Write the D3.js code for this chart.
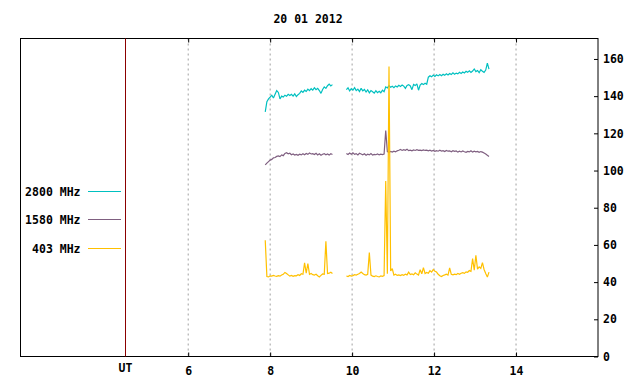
<!DOCTYPE html>
<html>
<head>
<meta charset="utf-8">
<script src="https://cdn.jsdelivr.net/npm/d3@7"></script>
<style>
  body { margin: 0; background: #fff; }
  text { font-family: "DejaVu Sans Mono", monospace; font-weight: bold; font-size: 11.5px; }
</style>
</head>
<body>
<svg id="chart" width="640" height="384"></svg>
<script>
// time axis (hours UT) and value axis ticks
var xTicks = [6, 8, 10, 12, 14];
var yTicks = [0, 20, 40, 60, 80, 100, 120, 140, 160];
var title = "20 01 2012";

// two observing segments, one sample every 0.04 h
var segStart = [7.88, 9.86];
var step = 0.04;

var names = ["2800 MHz", "1580 MHz", "403 MHz"];
var colors = ["#00c0c0", "#7f5f80", "#ffc000"];

var f2800a = [131.5, 137, 138.5, 139.5, 140.5, 139, 141, 143, 142, 138.5,
  140, 139.5, 140.5, 140, 141, 140.3, 141, 140, 141.2, 139.8,
  140.8, 141.5, 142.8, 142, 143.2, 142.5, 143.8, 143, 144, 143.2,
  144.5, 143.5, 144.2, 143, 141.5, 143.6, 145, 144.2, 145.6, 146.5,
  145.5, 146.2];
var f2800b = [143.5, 144.5, 142.8, 144, 143.2, 144.6, 143, 143.8, 142.5, 144.2,
  142.8, 143.6, 142.2, 143.4, 141.8, 143, 142.4, 141.6, 142.9, 141.9,
  142.6, 141.8, 143.2, 142.4, 145, 144.4, 145.6, 144.8, 145.3, 144.6,
  145.5, 144.9, 145.8, 145.2, 146, 145.4, 144.2, 145.8, 146.2, 145.5,
  143.5, 146.3, 145.7, 146.6, 143.2, 146, 146.8, 146.2, 146.9, 146.4,
  150.2, 151, 150.4, 151.3, 150.6, 151.5, 150.9, 151.6, 151, 151.8,
  151.2, 152, 151.4, 152.2, 151.6, 152.5, 151.8, 152.4, 152, 152.8,
  152.2, 153, 152.5, 153.4, 152.8, 153.6, 152.7, 153.5, 154.6, 153.2,
  153.8, 152.6, 154.2, 153.4, 152.8, 154, 157.8, 154.5];

var f1580a = [103, 104, 104.8, 105.6, 106, 106.8, 107, 107.6, 107.9, 107.5,
  108.4, 108, 109.2, 109.6, 109, 109.3, 108.5, 108.9, 108.3, 108.7,
  108.2, 108.8, 108.4, 109, 108.5, 109.2, 108.7, 109.4, 108.9, 109.1,
  108.6, 109.3, 108.4, 109, 108.2, 108.8, 109.1, 108.5, 108.9, 108.3,
  109, 108.6];
var f1580b = [109.2, 108.6, 109.4, 108.8, 109.5, 108.7, 109.1, 108.4, 109.3, 108.9,
  108.5, 109, 108.2, 108.8, 108.4, 109.1, 108.3, 108.7, 108.5, 108.9,
  108.4, 108.8, 108.6, 108.9, 121.5, 110.2, 109.8, 110.3, 109.9, 110.4,
  110.1, 110.6, 110.9, 111.3, 110.8, 111.2, 110.9, 111.4, 110.7, 111,
  110.6, 111.1, 110.8, 111.2, 110.9, 111, 110.7, 111.1, 110.8, 111,
  110.6, 110.9, 110.5, 110.8, 110.3, 110.7, 110.4, 110.9, 110.5, 110.7,
  110.2, 110.8, 110.4, 110.6, 110.1, 110.7, 110.3, 110.5, 109.9, 110.4,
  110, 110.5, 110.1, 109.8, 110.3, 110, 110.6, 109.9, 110.4, 110.1,
  110.3, 109.8, 110.2, 109.9, 109.4, 108.9, 108.2, 107.6];

var f403a = [62.5, 43, 42.8, 43.4, 43.2, 43.6, 43.3, 43.1, 43.5, 43.2,
  43.8, 44.2, 45.2, 44.6, 43.9, 43.2, 43.6, 43.1, 43.5, 43.4,
  44, 43.6, 44.5, 44.2, 50.3, 44.8, 50, 44.2, 44.6, 44,
  43.8, 44.2, 43.4, 42.8, 43.6, 44.4, 44.2, 62, 44.6, 44.8,
  45.3, 44.6];
var f403b = [43.3, 43, 43.6, 43.2, 43.5, 44, 43.8, 44.2, 44.6, 45.4,
  44.6, 44, 43.8, 44.2, 55.9, 43.8, 43.2, 43, 43.4, 43,
  42.8, 43.3, 43.1, 43.5, 94.3, 44.5, 155.9, 46, 47.2, 43.8,
  44.2, 43.6, 43.9, 43.5, 44, 43.7, 44.3, 43.9, 45.4, 44.1,
  44.4, 44, 45, 44.3, 43.8, 46.7, 44.5, 47.8, 44.6, 45.2,
  44.8, 46.2, 45.4, 46.8, 45.8, 45.4, 44.2, 43.4, 43, 43.6,
  43.9, 44.3, 43.8, 47.6, 44.2, 43.9, 44.3, 44, 44.6, 44.2,
  44.8, 45.1, 44.7, 45.5, 45.3, 46.2, 45.8, 52.6, 46.4, 54.4,
  47, 48.2, 47.4, 50.5, 46.8, 44.6, 42.7, 45.4];

var seriesData = [[f2800a, f2800b], [f1580a, f1580b], [f403a, f403b]];

var svg = d3.select("#chart");
var pLeft = 20.5, pTop = 38.5, pRight = 598, pBottom = 356.5;
var utStart = 4.47;

var x = d3.scaleLinear().domain([utStart, 16]).range([125.5, pRight]);
var y = d3.scaleLinear().domain([0, 171]).range([pBottom, pTop]);

// dotted vertical grid
svg.append("g").selectAll("line").data(xTicks).enter().append("line")
  .attr("x1", function(d) { return x(d); }).attr("x2", function(d) { return x(d); })
  .attr("y1", pTop).attr("y2", pBottom)
  .attr("stroke", "#a0a0a0").attr("stroke-dasharray", "2,3");

// series
var line = d3.line()
  .x(function(d) { return x(d[0]); })
  .y(function(d) { return y(d[1]); });

seriesData.forEach(function(segs, k) {
  segs.forEach(function(vals, s) {
    var pts = vals.map(function(v, i) { return [segStart[s] + i * step, v]; });
    svg.append("path").datum(pts)
      .attr("d", line)
      .attr("fill", "none")
      .attr("stroke", colors[k])
      .attr("stroke-width", 1.2)
      .attr("stroke-linejoin", "miter")
      .attr("stroke-miterlimit", 2);
  });
});

// frame and UT marker
svg.append("rect")
  .attr("x", pLeft).attr("y", pTop)
  .attr("width", pRight - pLeft).attr("height", pBottom - pTop)
  .attr("fill", "none").attr("stroke", "#000").attr("stroke-width", 1);
svg.append("line")
  .attr("x1", x(utStart)).attr("x2", x(utStart)).attr("y1", pTop).attr("y2", pBottom)
  .attr("stroke", "#8b0000").attr("stroke-width", 1);

// axes
var xb = svg.append("g").attr("transform", "translate(0," + pBottom + ")")
  .call(d3.axisBottom(x).tickValues(xTicks).tickSize(-4).tickPadding(10.5));
var xt = svg.append("g").attr("transform", "translate(0," + pTop + ")")
  .call(d3.axisTop(x).tickValues(xTicks).tickSize(-4).tickFormat(""));
var yr = svg.append("g").attr("transform", "translate(" + pRight + ",0)")
  .call(d3.axisRight(y).tickValues(yTicks).tickSize(-4).tickPadding(5));

[xb, xt, yr].forEach(function(g) {
  g.select(".domain").remove();
  g.selectAll("line").attr("stroke", "#000");
  g.selectAll("text").attr("fill", "#000");
  g.attr("font-family", null).attr("font-size", null);
});

svg.append("text").attr("x", x(utStart)).attr("y", 372)
  .attr("text-anchor", "middle").text("UT");

svg.append("text").attr("x", 308).attr("y", 23)
  .attr("text-anchor", "middle").text(title);

// legend
var legY = [191.5, 219.5, 248.5];
names.forEach(function(n, k) {
  svg.append("text").attr("x", 80.5).attr("y", legY[k] + 4.5)
    .attr("text-anchor", "end").text(n);
  svg.append("line")
    .attr("x1", 88).attr("x2", 121)
    .attr("y1", legY[k]).attr("y2", legY[k])
    .attr("stroke", colors[k]).attr("stroke-width", 1);
});
</script>
</body>
</html>
